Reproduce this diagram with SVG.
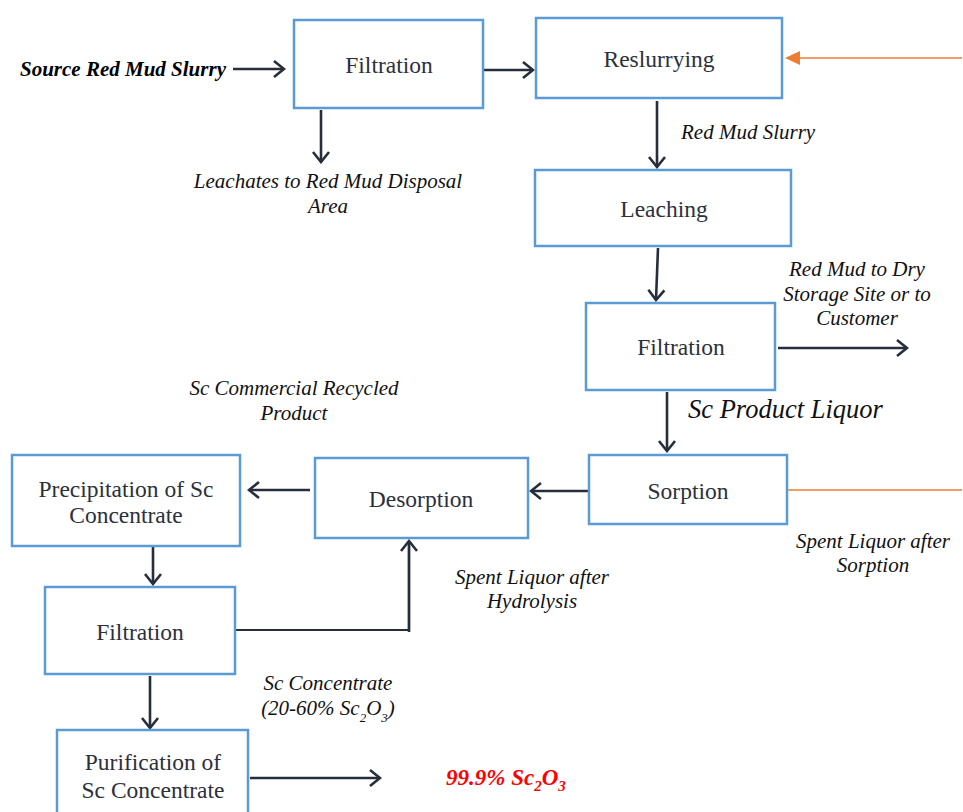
<svg xmlns="http://www.w3.org/2000/svg" width="963" height="812" viewBox="0 0 963 812">
<style>
.box{fill:#fff;stroke:#5b9bd5;stroke-width:2.5}
.bt{font-family:"Liberation Serif","Times New Roman",serif;font-size:23.5px;fill:#2b303b;text-anchor:middle}
.lb{font-family:"Liberation Serif","Times New Roman",serif;font-size:21px;font-style:italic;fill:#111;text-anchor:middle}
.ar{stroke:#262e3b;stroke-width:2.6;fill:none;marker-end:url(#ah)}
.ln{stroke:#262e3b;stroke-width:2.2;fill:none}
.or{stroke:#ed7d31;stroke-width:1.5;fill:none}
</style>
<defs>
<marker id="ah" markerUnits="userSpaceOnUse" markerWidth="14" markerHeight="20" refX="12" refY="10" orient="auto">
<path d="M2,2 L12,10 L2,18" fill="none" stroke="#262e3b" stroke-width="2.6"/>
</marker>
<marker id="oh" markerUnits="userSpaceOnUse" markerWidth="16" markerHeight="14" refX="1" refY="7" orient="auto">
<path d="M0,0 L15,7 L0,14 Z" fill="#ed7d31"/>
</marker>
</defs>
<rect width="963" height="812" fill="#fff"/>
<g id="connectors">
<path class="ar" d="M233,69 H284"/>
<path class="ar" d="M484,70 H533"/>
<path class="ar" d="M321,110 V162"/>
<path class="or" d="M962,58 H799" marker-end="url(#oh)"/>
<path class="ar" d="M657,101 V167"/>
<path class="ar" d="M658,248 L656,300"/>
<path class="ar" d="M778,348 H907"/>
<path class="ar" d="M667,392 V451"/>
<path class="or" d="M788,490 H962"/>
<path class="ar" d="M588,491 H531"/>
<path class="ar" d="M310,490 H249"/>
<path class="ar" d="M153,547 V584"/>
<path class="ln" d="M236,630 H409 V545"/>
<path class="ar" d="M409,632 V541"/>
<path class="ar" d="M150,676 V728"/>
<path class="ar" d="M250,778 H380"/>
</g>
<g id="filtration1"><rect class="box" x="294" y="20" width="189" height="88"/><text class="bt" x="389" y="73">Filtration</text></g>
<g id="reslurrying"><rect class="box" x="536" y="18" width="246" height="80"/><text class="bt" x="659" y="67">Reslurrying</text></g>
<g id="leaching"><rect class="box" x="535" y="170" width="256" height="76"/><text class="bt" x="664" y="217">Leaching</text></g>
<g id="filtration2"><rect class="box" x="586" y="303" width="189" height="87"/><text class="bt" x="681" y="355">Filtration</text></g>
<g id="sorption"><rect class="box" x="589" y="455" width="198" height="69"/><text class="bt" x="688" y="499">Sorption</text></g>
<g id="desorption"><rect class="box" x="315" y="458" width="213" height="80"/><text class="bt" x="421" y="507">Desorption</text></g>
<g id="precipitation"><rect class="box" x="12" y="455" width="228" height="91"/><text class="bt" x="126" y="497">Precipitation of Sc</text><text class="bt" x="126" y="523">Concentrate</text></g>
<g id="filtration3"><rect class="box" x="45" y="587" width="190" height="87"/><text class="bt" x="140" y="640">Filtration</text></g>
<g id="purification"><rect class="box" x="57" y="730" width="191" height="90"/><text class="bt" x="153" y="770">Purification of</text><text class="bt" x="153" y="798">Sc Concentrate</text></g>
<g id="labels">
<text class="lb" x="20" y="76" style="text-anchor:start;font-weight:bold;font-size:21px;fill:#000">Source Red Mud Slurry</text>
<text class="lb" x="328" y="188">Leachates to Red Mud Disposal</text>
<text class="lb" x="328" y="213">Area</text>
<text class="lb" x="681" y="139" style="text-anchor:start">Red Mud Slurry</text>
<text class="lb" x="857" y="276">Red Mud to Dry</text>
<text class="lb" x="857" y="301">Storage Site or to</text>
<text class="lb" x="857" y="325">Customer</text>
<text class="lb" x="688" y="418" style="text-anchor:start;font-size:26.5px">Sc Product Liquor</text>
<text class="lb" x="294" y="395">Sc Commercial Recycled</text>
<text class="lb" x="294" y="420">Product</text>
<text class="lb" x="873" y="548">Spent Liquor after</text>
<text class="lb" x="873" y="572">Sorption</text>
<text class="lb" x="532" y="584">Spent Liquor after</text>
<text class="lb" x="532" y="608">Hydrolysis</text>
<text class="lb" x="328" y="690">Sc Concentrate</text>
<text class="lb" x="328" y="715">(20-60% Sc<tspan font-size="13" dy="7">2</tspan><tspan dy="-7">O</tspan><tspan font-size="13" dy="7">3</tspan><tspan dy="-7">)</tspan></text>
<text class="lb" x="446" y="785" style="text-anchor:start;font-weight:bold;fill:#ff0000;font-size:23px">99.9% Sc<tspan font-size="15" dy="6">2</tspan><tspan dy="-6">O</tspan><tspan font-size="15" dy="6">3</tspan></text>
</g>
</svg>
